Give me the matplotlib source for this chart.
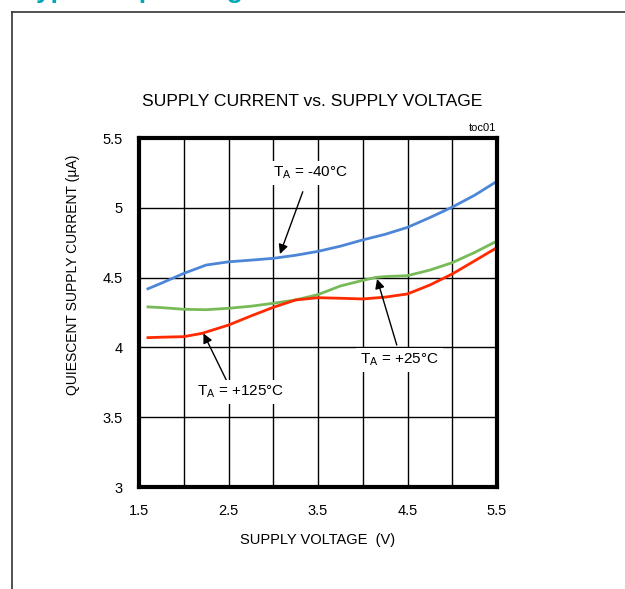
import matplotlib
matplotlib.use("Agg")
import matplotlib.pyplot as plt
from matplotlib.lines import Line2D

plt.rcParams['font.family'] = ['Liberation Sans', 'DejaVu Sans']
plt.rcParams['mathtext.default'] = 'regular'

# Data
v_m40 = [1.6, 1.75, 2.0, 2.25, 2.5, 2.75, 3.0, 3.25, 3.5, 3.75, 4.0, 4.25, 4.5, 4.75, 5.0, 5.25, 5.5]
i_m40 = [4.42, 4.46, 4.53, 4.59, 4.613, 4.625, 4.638, 4.66, 4.688, 4.725, 4.77, 4.81, 4.86, 4.93, 5.005, 5.09, 5.19]

v_25 = [1.6, 1.75, 2.0, 2.25, 2.5, 2.75, 3.0, 3.25, 3.5, 3.75, 4.0, 4.15, 4.25, 4.5, 4.75, 5.0, 5.25, 5.5]
i_25 = [4.29, 4.285, 4.273, 4.27, 4.28, 4.295, 4.316, 4.34, 4.378, 4.44, 4.48, 4.502, 4.507, 4.514, 4.554, 4.607, 4.68, 4.762]

v_125 = [1.6, 1.75, 2.0, 2.2, 2.5, 2.75, 3.0, 3.25, 3.5, 3.75, 4.0, 4.25, 4.5, 4.75, 5.0, 5.25, 5.5]
i_125 = [4.07, 4.073, 4.077, 4.10, 4.16, 4.225, 4.287, 4.34, 4.356, 4.352, 4.347, 4.36, 4.383, 4.447, 4.526, 4.62, 4.715]

x_ticks = [1.5, 2.5, 3.5, 4.5, 5.5]
x_tick_labels = ['1.5', '2.5', '3.5', '4.5', '5.5']
y_ticks = [3, 3.5, 4, 4.5, 5, 5.5]
y_tick_labels = ['3', '3.5', '4', '4.5', '5', '5.5']
x_grid = [2.0, 2.5, 3.0, 3.5, 4.0, 4.5, 5.0]
y_grid = [3.5, 4.0, 4.5, 5.0]

W, H = 625, 589
fig = plt.figure(figsize=(W / 100, H / 100), dpi=100)

# Outer frame (left and top edges visible)
fig.add_artist(Line2D([12 / W, 12 / W], [0, 1 - 12 / H], color='#333333', lw=1.2))
fig.add_artist(Line2D([12 / W, 1], [1 - 12 / H, 1 - 12 / H], color='#333333', lw=1.2))

# Teal header (cut off at top in the reference: only descenders visible)
fig.text(22 / W, 1 + 2 / H, 'Typical Operating Characteristics', color='#00A9B5',
         fontsize=19, fontweight='bold', ha='left', va='baseline')

ax = fig.add_axes([139 / W, 1 - 487 / H, (497 - 139) / W, (487 - 138) / H])
ax.set_xlim(1.5, 5.5)
ax.set_ylim(3, 5.5)

for xv in x_grid:
    ax.axvline(xv, color='black', lw=1.0, zorder=1)
for yv in y_grid:
    ax.axhline(yv, color='black', lw=1.0, zorder=1)

ax.plot(v_m40, i_m40, color='#4D86D6', lw=2.0, zorder=3)
ax.plot(v_25, i_25, color='#78BA58', lw=2.0, zorder=3)
ax.plot(v_125, i_125, color='#FF2A00', lw=2.0, zorder=3)

ax.set_xticks(x_ticks)
ax.set_xticklabels(x_tick_labels)
ax.set_yticks(y_ticks)
ax.set_yticklabels(y_tick_labels)
ax.tick_params(length=0, labelsize=10.5, pad=12)
ax.tick_params(axis='y', pad=11.5)
for s in ax.spines.values():
    s.set_linewidth(3.0)
    s.set_zorder(5)

arrow = dict(arrowstyle='-|>', color='black', lw=1.0, mutation_scale=14, shrinkA=0, shrinkB=0)
bbox = dict(boxstyle='square,pad=0.25', fc='white', ec='none')

ax.annotate('', xy=(3.075, 4.669), xytext=(3.33, 5.115), arrowprops=arrow, zorder=4)
ax.text(3.41, 5.25, r'T$_{A}$ = -40°C', fontsize=11, ha='center', va='center', bbox=bbox, zorder=4)

ax.annotate('', xy=(4.16, 4.49), xytext=(4.38, 4.017), arrowprops=arrow, zorder=4)
ax.text(4.41, 3.91, r'T$_{A}$ = +25°C', fontsize=11, ha='center', va='center', bbox=bbox, zorder=4)

ax.annotate('', xy=(2.22, 4.10), xytext=(2.49, 3.747), arrowprops=arrow, zorder=4)
ax.text(2.63, 3.68, r'T$_{A}$ = +125°C', fontsize=11, ha='center', va='center', bbox=bbox, zorder=4)

fig.text(312 / W, 1 - 101 / H, 'SUPPLY CURRENT vs. SUPPLY VOLTAGE',
         fontsize=12.6, ha='center', va='center')
fig.text(496 / W, 1 - 128 / H, 'toc01', fontsize=8, ha='right', va='center')
fig.text(318 / W, 1 - 540 / H, 'SUPPLY VOLTAGE  (V)', fontsize=10.5, ha='center', va='center')
fig.text(73 / W, 1 - 275 / H, 'QUIESCENT SUPPLY CURRENT (µA)', fontsize=10,
         rotation=90, ha='center', va='center')

fig.savefig('out.png', dpi=100)
